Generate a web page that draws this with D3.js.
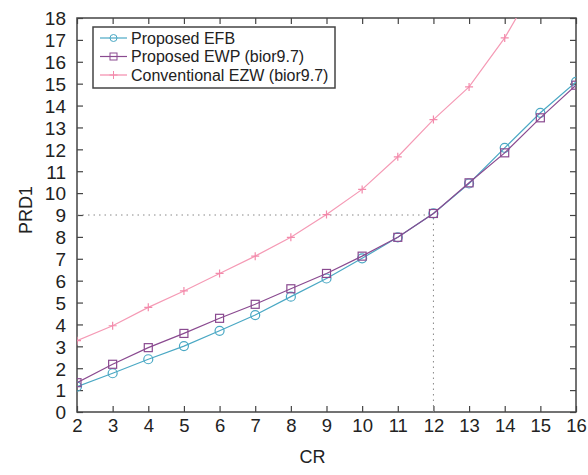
<!DOCTYPE html>
<html>
<head>
<meta charset="utf-8">
<script src="https://cdn.jsdelivr.net/npm/d3@7"></script>
<style>
  body { margin: 0; background: #fff; }
  text { font-family: "Liberation Sans", Arial, sans-serif; fill: #222; }
</style>
</head>
<body>
<svg id="chart" width="588" height="475"></svg>
<script>
const cr = [2, 3, 4, 5, 6, 7, 8, 9, 10, 11, 12, 13, 14, 15, 16];
const efb = [1.16, 1.77, 2.41, 3.01, 3.71, 4.43, 5.27, 6.10, 7.02, 7.98, 9.07, 10.44, 12.07, 13.67, 15.08];
const ewp = [1.34, 2.18, 2.94, 3.59, 4.28, 4.92, 5.63, 6.33, 7.12, 7.98, 9.07, 10.47, 11.84, 13.44, 14.93];
const ezw = [3.26, 3.94, 4.78, 5.53, 6.33, 7.12, 7.98, 9.02, 10.17, 11.66, 13.36, 14.85, 17.09, 19.9, 23.0];
const yTicks = d3.range(0, 19);
const seriesNames = ["Proposed EFB", "Proposed EWP (bior9.7)", "Conventional EZW (bior9.7)"];

const pLeft = 77, pRight = 576, pTop = 18, pBottom = 412;

let svg = d3.select("#chart");

let x = d3.scaleLinear().domain([2, 16]).range([pLeft, pRight]);
let y = d3.scaleLinear().domain([0, 18]).range([pBottom, pTop]);

svg.append("defs").append("clipPath").attr("id", "clip")
  .append("rect")
  .attr("x", pLeft).attr("y", pTop)
  .attr("width", pRight - pLeft).attr("height", pBottom - pTop);

// axes with inward ticks
let xAxis = svg.append("g")
  .attr("transform", `translate(0,${pBottom})`)
  .call(d3.axisBottom(x).tickValues(cr).tickSize(-6).tickPadding(7).tickFormat(d3.format("d")));
let xTop = svg.append("g")
  .attr("transform", `translate(0,${pTop})`)
  .call(d3.axisTop(x).tickValues(cr).tickSize(-6).tickFormat(""));
let yAxis = svg.append("g")
  .attr("transform", `translate(${pLeft},0)`)
  .call(d3.axisLeft(y).tickValues(yTicks).tickSize(-6).tickPadding(11));
let yRight = svg.append("g")
  .attr("transform", `translate(${pRight},0)`)
  .call(d3.axisRight(y).tickValues(yTicks).tickSize(-6).tickFormat(""));

[xAxis, xTop, yAxis, yRight].forEach(g => {
  g.select(".domain").remove();
  g.selectAll("line").attr("stroke", "#444").attr("stroke-width", 1.2);
  g.selectAll("text")
    .style("font-family", "Liberation Sans, Arial, sans-serif")
    .style("font-size", "18.5px")
    .attr("fill", "#222");
});
yAxis.selectAll("text").attr("dy", "0.36em").style("font-size", "19px");

// frame
svg.append("rect")
  .attr("x", pLeft).attr("y", pTop)
  .attr("width", pRight - pLeft).attr("height", pBottom - pTop)
  .attr("fill", "none").attr("stroke", "#444").attr("stroke-width", 1.5);

// dotted reference lines at CR = 12, PRD1 = 9
svg.append("line")
  .attr("x1", x(2)).attr("x2", x(12))
  .attr("y1", y(9)).attr("y2", y(9))
  .attr("stroke", "#888").attr("stroke-dasharray", "1.5,4");
svg.append("line")
  .attr("x1", x(12)).attr("x2", x(12))
  .attr("y1", y(0)).attr("y2", y(9))
  .attr("stroke", "#888").attr("stroke-dasharray", "1.5,4");

let line = d3.line().x((d, i) => x(cr[i])).y(d => y(d));

let plot = svg.append("g").attr("clip-path", "url(#clip)");

// conventional EZW
plot.append("path").datum(ezw)
  .attr("d", line).attr("fill", "none")
  .attr("stroke", "#f59ab5").attr("stroke-width", 1.2);
plot.selectAll(".ezw").data(ezw).enter().append("path")
  .attr("transform", (d, i) => `translate(${x(cr[i])},${y(d)})`)
  .attr("d", "M-4,0H4M0,-4V4")
  .attr("stroke", "#f38aab").attr("stroke-width", 1.2);

// proposed EFB
plot.append("path").datum(efb)
  .attr("d", line).attr("fill", "none")
  .attr("stroke", "#4aa8c4").attr("stroke-width", 1.2);
plot.selectAll(".efb").data(efb).enter().append("circle")
  .attr("cx", (d, i) => x(cr[i])).attr("cy", d => y(d)).attr("r", 4.5)
  .attr("fill", "none").attr("stroke", "#4aa8c4").attr("stroke-width", 1.2);

// proposed EWP
plot.append("path").datum(ewp)
  .attr("d", line).attr("fill", "none")
  .attr("stroke", "#8a4a90").attr("stroke-width", 1.2);
plot.selectAll(".ewp").data(ewp).enter().append("rect")
  .attr("x", (d, i) => x(cr[i]) - 4).attr("y", d => y(d) - 4)
  .attr("width", 8).attr("height", 8)
  .attr("fill", "none").attr("stroke", "#8a4a90").attr("stroke-width", 1.2);

// axis titles
svg.append("text")
  .text("CR")
  .attr("x", (pLeft + pRight) / 2 - 14).attr("y", 463)
  .style("font-size", "18px")
  .style("text-anchor", "middle");
svg.append("text")
  .text("PRD1")
  .attr("transform", `translate(32,${210}) rotate(-90)`)
  .style("font-size", "18px")
  .style("text-anchor", "middle");

// legend
let legend = svg.append("g");
legend.append("rect")
  .attr("x", 93).attr("y", 27).attr("width", 242).attr("height", 61)
  .attr("fill", "#fff").attr("stroke", "#444").attr("stroke-width", 1.5);
let colors = ["#4aa8c4", "#8a4a90", "#f38aab"];
seriesNames.forEach((name, i) => {
  let ly = 38 + i * 18.5;
  legend.append("line")
    .attr("x1", 100).attr("x2", 127).attr("y1", ly).attr("y2", ly)
    .attr("stroke", colors[i]).attr("stroke-width", 1.2);
  if (i === 0) {
    legend.append("circle").attr("cx", 113.5).attr("cy", ly).attr("r", 3.5)
      .attr("fill", "none").attr("stroke", colors[i]);
  } else if (i === 1) {
    legend.append("rect").attr("x", 110).attr("y", ly - 3.5).attr("width", 7).attr("height", 7)
      .attr("fill", "none").attr("stroke", colors[i]);
  } else {
    legend.append("path").attr("transform", `translate(113.5,${ly})`)
      .attr("d", "M-4,0H4M0,-4V4").attr("stroke", colors[i]);
  }
  legend.append("text")
    .text(name)
    .attr("x", 131).attr("y", ly + 5.5)
    .style("font-size", "16px");
});
</script>
</body>
</html>
